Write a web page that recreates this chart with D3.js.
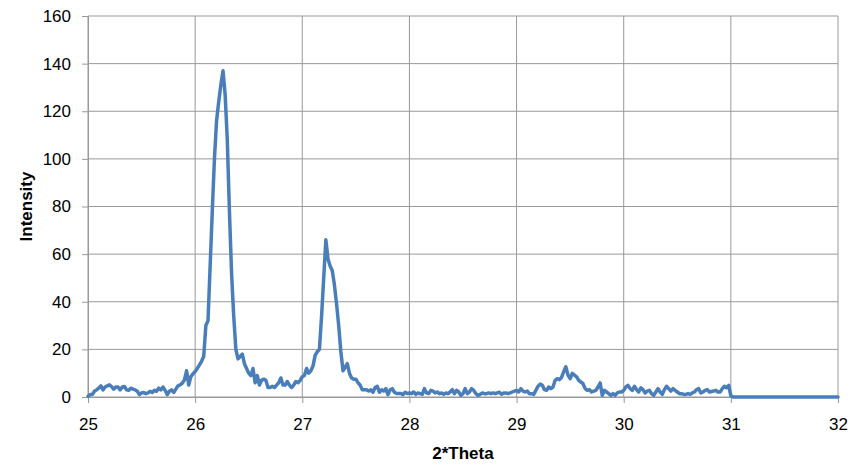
<!DOCTYPE html>
<html>
<head>
<meta charset="utf-8">
<script src="https://cdn.jsdelivr.net/npm/d3@7"></script>
<style>
  body { margin: 0; background: #fff; }
  svg { display: block; }
  .tick text { font-family: "Liberation Sans", Arial, sans-serif; font-size: 17px; fill: #000; }
  .title { font-family: "Liberation Sans", Arial, sans-serif; font-size: 17px; font-weight: bold; fill: #000; }
</style>
</head>
<body>
<svg></svg>
<script>
const thetaStart = 25;
const thetaStep = 0.02;
// intensity every 0.02 deg from 25.00 to 31.00
const intensity = [
  0.3, 1, 1, 2.4, 3, 3.7, 4.7, 3, 4.2, 4.7,
  5.1, 4.4, 3.3, 4.2, 4.2, 3, 4.2, 4.4, 3, 2.8,
  3.7, 3.3, 3, 2.4, 1, 1.7, 1.9, 1.4, 1.7, 2.4,
  1.9, 2.8, 2.4, 3.7, 3, 4.2, 2.8, 1, 2.4, 3,
  1.9, 3.3, 4.7, 5.1, 5.8, 7.2, 11, 5, 8.6, 9.7,
  10.7, 12, 13.5, 15, 17, 30, 32, 55, 78, 100,
  116, 124, 131, 137, 127, 108, 78, 52, 34, 20,
  16, 17, 18, 14, 12, 10, 9, 12, 6, 9,
  5, 7, 7.5, 7, 4, 4, 4.5, 4, 5, 6,
  8, 5, 5, 6.5, 5, 4, 5, 6.5, 6, 7,
  8.5, 9, 12, 10, 11, 13, 17.5, 19, 20, 34,
  50, 66, 58, 55, 53, 47, 39, 30, 19, 11,
  12.5, 14, 10, 8, 7.5, 7.5, 6, 5, 3, 3,
  3, 2.5, 3, 2, 4, 4.5, 2, 3, 2.5, 3.5,
  1, 3, 3.5, 2, 1.5, 1.5, 1.5, 1, 2, 1.5,
  1.7, 1.4, 2.1, 1.1, 1.7, 1.4, 1.1, 3.5, 1.7, 1.4,
  2.8, 2.5, 1.7, 2.1, 1.4, 1.7, 1.1, 1.7, 1.4, 2.1,
  3.1, 1.4, 2.8, 2.1, 0.7, 1.4, 3.5, 1.4, 2.1, 3.5,
  2.8, 1.4, 0.7, 1.1, 1.7, 1.4, 1.4, 1.7, 1.4, 1.7,
  1.4, 1.7, 2, 1.1, 1.7, 1.7, 1.4, 1.7, 2.1, 2.5,
  2.8, 2.1, 3.5, 2.5, 2.1, 2.5, 1.4, 1.4, 1.1, 2.8,
  4.5, 5.4, 4.9, 3.1, 2.8, 4.2, 3.5, 4.2, 7, 7.7,
  7.3, 8.2, 10.6, 12.7, 9.2, 7.7, 9.9, 9.2, 8.5, 7,
  6.3, 5.6, 3.5, 2.8, 3.1, 2.1, 2.5, 2.8, 4.2, 5.9,
  0.7, 2.8, 2.1, 1.4, 0.7, 1.4, 0.7, 1.7, 2.1, 2.1,
  2.8, 4.2, 4.9, 3.5, 2.8, 4.5, 3.1, 2.1, 3.9, 3.1,
  1.7, 2.5, 2.8, 1.4, 0.7, 2.1, 3.5, 2.1, 1.1, 3.1,
  4.5, 3.5, 2.5, 3.5, 2.8, 2.1, 1.4, 1.4, 1.1, 1.1,
  1.4, 1.1, 1.7, 2.1, 3.1, 3.5, 1.7, 2.1, 2.8, 3.1,
  2.1, 2.3, 2.5, 2.8, 2.1, 2.1, 3.5, 4.5, 3.9, 4.9,
  0.5
];
const tailTheta = [31.02, 32];
const tailIntensity = [0, 0];

const xTicks = [25, 26, 27, 28, 29, 30, 31, 32];
const yTicks = [0, 20, 40, 60, 80, 100, 120, 140, 160];

const W = 863, H = 470;
const margin = {top: 16, right: 25, bottom: 73, left: 88};
const width = W - margin.left - margin.right;
const height = H - margin.top - margin.bottom;
const gridColor = '#999';

const points = intensity.map((v, i) => [thetaStart + i * thetaStep, v])
  .concat(tailTheta.map((t, i) => [t, tailIntensity[i]]));

const svg = d3.select('svg').attr('width', W).attr('height', H);
const g = svg.append('g').attr('transform', 'translate(' + margin.left + ',' + margin.top + ')');

const x = d3.scaleLinear().domain([25, 32]).range([0, width]);
const y = d3.scaleLinear().domain([0, 160]).range([height, 0]);

// grid
g.append('g').selectAll('line.h').data(yTicks).enter().append('line')
  .attr('x1', 0).attr('x2', width)
  .attr('y1', d => y(d)).attr('y2', d => y(d))
  .attr('stroke', gridColor).attr('stroke-width', 1);
g.append('g').selectAll('line.v').data(xTicks).enter().append('line')
  .attr('y1', 0).attr('y2', height)
  .attr('x1', d => x(d)).attr('x2', d => x(d))
  .attr('stroke', gridColor).attr('stroke-width', 1);

const xAxis = g.append('g')
  .attr('transform', 'translate(0,' + height + ')')
  .call(d3.axisBottom(x).tickValues(xTicks).tickFormat(d3.format('d')).tickSizeInner(6).tickSizeOuter(0).tickPadding(15));
const yAxis = g.append('g')
  .call(d3.axisLeft(y).tickValues(yTicks).tickFormat(d3.format('d')).tickSizeInner(6).tickSizeOuter(0).tickPadding(11));

[xAxis, yAxis].forEach(a => {
  a.select('.domain').attr('stroke', gridColor);
  a.selectAll('.tick line').attr('stroke', gridColor);
});

const line = d3.line().x(d => x(d[0])).y(d => y(d[1]));
g.append('path')
  .datum(points)
  .attr('fill', 'none')
  .attr('stroke', '#4a7ebb')
  .attr('stroke-width', 3.5)
  .attr('stroke-linejoin', 'round')
  .attr('stroke-linecap', 'round')
  .attr('d', line);

svg.append('text').attr('class', 'title')
  .attr('x', margin.left + width / 2).attr('y', 459)
  .attr('text-anchor', 'middle').text('2*Theta');
svg.append('text').attr('class', 'title')
  .attr('transform', 'translate(32,' + (margin.top + height / 2) + ') rotate(-90)')
  .attr('text-anchor', 'middle').text('Intensity');
</script>
</body>
</html>
